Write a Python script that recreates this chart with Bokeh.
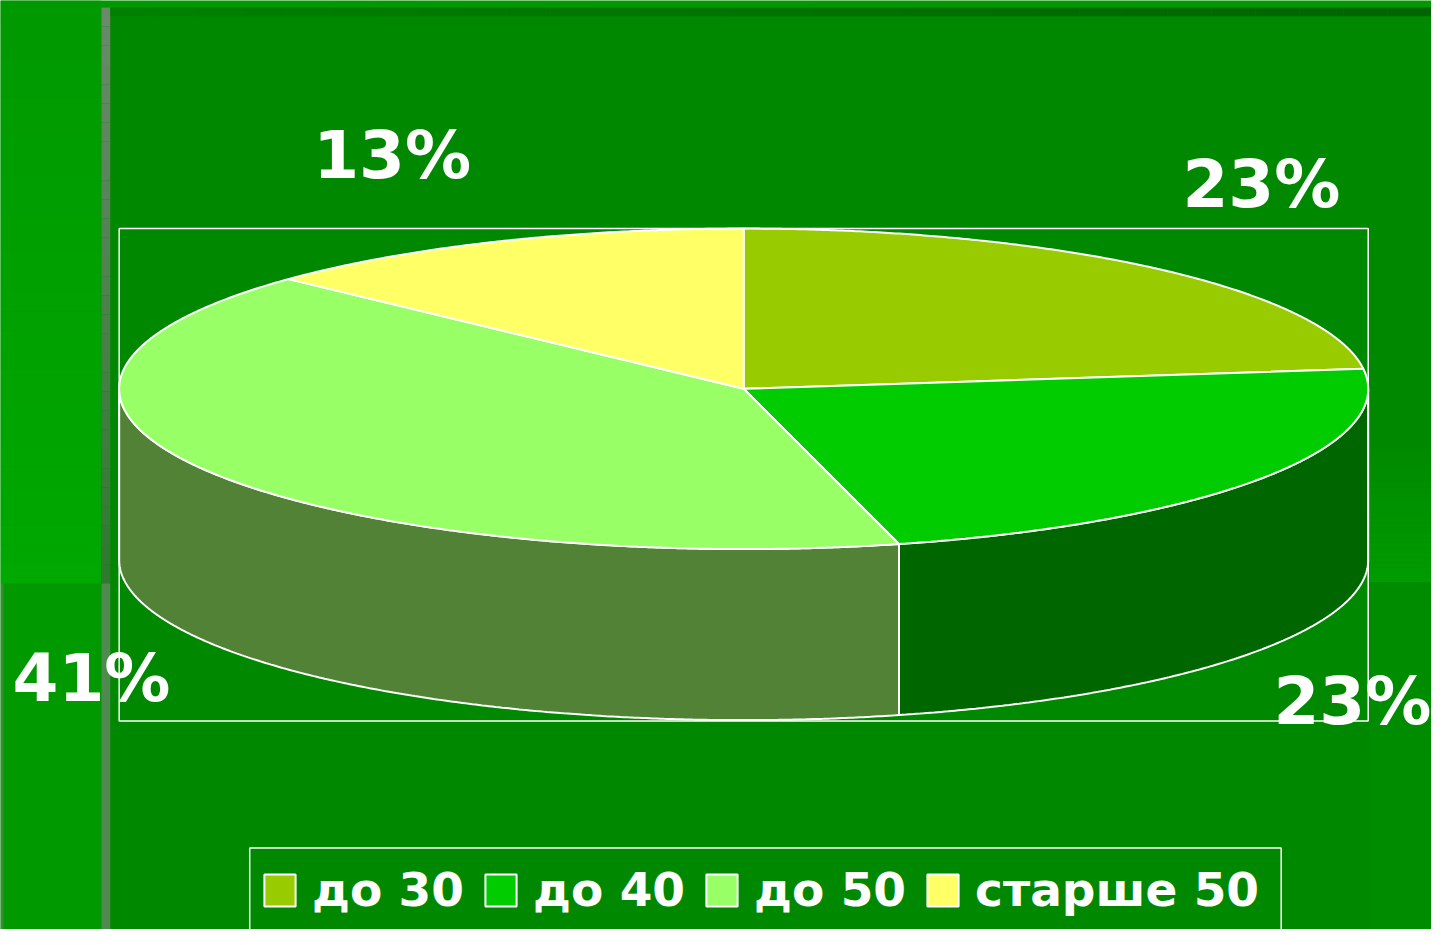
import numpy as np
from bokeh.plotting import figure
from bokeh.models import Range1d, ColumnDataSource, Legend, LegendItem
from bokeh.embed import file_html
from bokeh.resources import INLINE
from bokeh.core.properties import value

# ---------------- data ----------------
categories = ["до 30", "до 40", "до 50", "старше 50"]
values = [23, 23, 41, 13]
labels = ["23%", "23%", "41%", "13%"]

# ---------------- styles / layout ----------------
top_colors = ["#99CC00", "#00CC00", "#99FF66", "#FFFF66"]
side_colors = ["#6E9200", "#006600", "#528235", "#B3B347"]

W_REF, H_REF = 1447, 945          # reference pixel space used as data space
FIG_W, FIG_H = 1431, 929
SX, SY = FIG_W / W_REF, FIG_H / H_REF
CX, CY, RX, RY, DEPTH = 751.5, 395.0, 631.5, 163.0, 174.0
FRAME = (120, 1383, 232, 733)      # left, right, top, bottom
LABEL_POS = [(1275, 187), (1367, 713), (92, 690), (396, 158)]
LEGEND_BOX = (252, 1295, 862, 952)

p = figure(width=FIG_W, height=FIG_H,
           x_range=Range1d(0, W_REF), y_range=Range1d(H_REF, 0),
           x_axis_location=None, y_axis_location=None,
           output_backend="svg", toolbar_location=None, min_border=0,
           background_fill_color="#009900", border_fill_color="#009900",
           outline_line_color=None)
p.grid.visible = False


def hexmix(c1, c2, t):
    a = [int(c1[i:i + 2], 16) for i in (1, 3, 5)]
    b = [int(c2[i:i + 2], 16) for i in (1, 3, 5)]
    return "#%02x%02x%02x" % tuple(int(round(a[k] + (b[k] - a[k]) * t)) for k in range(3))


def vgrad(x0, x1, y0, y1, c0, c1, n=30):
    ys = np.linspace(y0, y1, n + 1)
    cols = [hexmix(c0, c1, i / (n - 1)) for i in range(n)]
    p.quad(left=x0, right=x1, top=ys[:-1], bottom=ys[1:], fill_color=cols, line_color=None)


def hgrad(x0, x1, y0, y1, c0, c1, n=30):
    xs = np.linspace(x0, x1, n + 1)
    cols = [hexmix(c0, c1, i / (n - 1)) for i in range(n)]
    p.quad(left=xs[:-1], right=xs[1:], top=y0, bottom=y1, fill_color=cols, line_color=None)


# ---------------- slide background decoration ----------------
vgrad(0, 102, 0, 593, "#009900", "#00a800")
p.quad(left=0, right=3, top=593, bottom=H_REF, fill_color="#3d8a3d", line_color=None)
p.quad(left=102, right=W_REF, top=7, bottom=H_REF, fill_color="#008800", line_color=None)
vgrad(1384, W_REF, 440, 592, "#008800", "#009c00")
p.quad(left=1384, right=W_REF, top=592, bottom=H_REF, fill_color="#008c00", line_color=None)
vgrad(102, 111, 7, 593, "#6a8a6a", "#2f7a2f")
p.quad(left=102, right=111, top=593, bottom=H_REF, fill_color="#4f8a4f", line_color=None)
hgrad(111, W_REF, 7, 16, "#008000", "#006400")

# ---------------- pie geometry from values ----------------
total = float(sum(values))
bounds = np.concatenate([[0.0], np.cumsum(values) / total * 360.0])


def arc(t0, t1, dy=0.0):
    n = max(2, int(abs(t1 - t0) * 3))
    t = np.radians(np.linspace(t0, t1, n))
    return CX + RX * np.sin(t), CY - RY * np.cos(t) + dy


# sides (front half 90..270 deg)
sx_list, sy_list, s_col = [], [], []
for i in range(len(values)):
    a, b = max(bounds[i], 90.0), min(bounds[i + 1], 270.0)
    if b > a:
        x1, y1 = arc(a, b)
        x2, y2 = arc(b, a, DEPTH)
        sx_list.append(np.concatenate([x1, x2]).tolist())
        sy_list.append(np.concatenate([y1, y2]).tolist())
        s_col.append(side_colors[i])
p.patches(sx_list, sy_list, fill_color=s_col, line_color="white", line_width=2)

# tops
tx, ty = [], []
for i in range(len(values)):
    x, y = arc(bounds[i], bounds[i + 1])
    tx.append([CX] + x.tolist())
    ty.append([CY] + y.tolist())
top_src = ColumnDataSource(dict(xs=tx, ys=ty, color=top_colors, name=categories))
top_r = p.patches("xs", "ys", source=top_src, fill_color="color", line_color="white", line_width=2)

# plot-area frame
fl, fr, ft, fb = FRAME
p.quad(left=fl, right=fr, top=ft, bottom=fb, fill_color=None, line_color="white", line_width=1.5)

# data labels
p.text(x=[q[0] for q in LABEL_POS], y=[q[1] for q in LABEL_POS], text=labels,
       text_color="white", text_font=value("DejaVu Sans"), text_font_style="bold",
       text_font_size="66px", text_align="center", text_baseline="alphabetic")

# legend box
ll, lr, lt, lb = LEGEND_BOX
p.quad(left=ll, right=lr, top=lt, bottom=lb, fill_color=None, line_color="white", line_width=1.5)

items = [LegendItem(label=categories[i], renderers=[top_r], index=i) for i in range(len(categories))]
legend = Legend(items=items, orientation="horizontal",
                location=(260, 12),
                glyph_width=39, glyph_height=40, label_standoff=13, spacing=17,
                padding=16, margin=0, border_line_color=None, background_fill_alpha=0,
                label_text_color="white", label_text_font="DejaVu Sans",
                label_text_font_style="bold", label_text_font_size="47px")
p.add_layout(legend)

open("out.html", "w").write(file_html(p, INLINE))
